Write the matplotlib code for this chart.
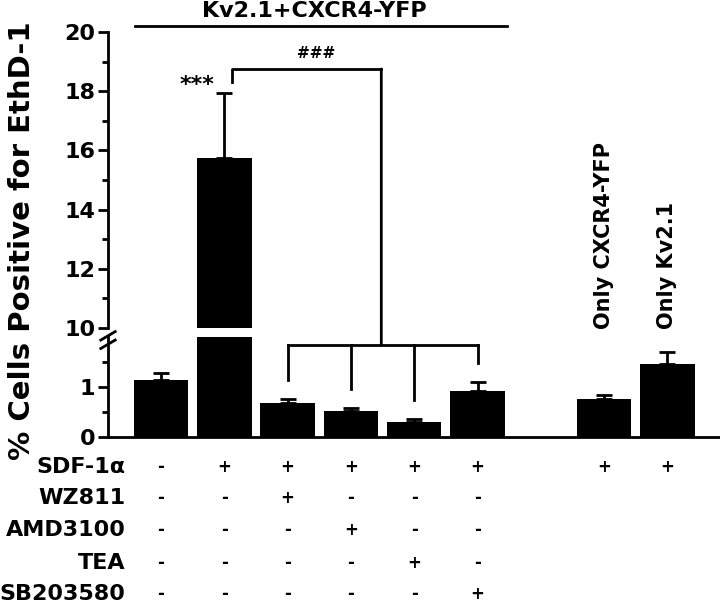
import numpy as np
import matplotlib.pyplot as plt
from matplotlib.patches import ConnectionPatch
from matplotlib.transforms import blended_transform_factory
from matplotlib.ticker import MultipleLocator

plt.rcParams['font.family'] = ['DejaVu Sans']
plt.rcParams['font.weight'] = 'bold'

# data
pos = [0, 1, 2, 3, 4, 5, 7, 8]
means = [1.14, 15.74, 0.67, 0.52, 0.30, 0.92, 0.76, 1.46]
sems = [0.14, 2.20, 0.09, 0.06, 0.06, 0.18, 0.08, 0.24]

row_names = ['SDF-1α', 'WZ811', 'AMD3100', 'TEA', 'SB203580']
signs = [
    ['-', '+', '+', '+', '+', '+', '+', '+'],
    ['-', '-', '+', '-', '-', '-', '', ''],
    ['-', '-', '-', '+', '-', '-', '', ''],
    ['-', '-', '-', '-', '+', '-', '', ''],
    ['-', '-', '-', '-', '-', '+', '', ''],
]
only_labels = {7: 'Only CXCR4-YFP', 8: 'Only Kv2.1'}

lw = 2.0
fig = plt.figure(figsize=(7.2, 6.04), dpi=100)
ax_hi = fig.add_axes([0.15, 0.457, 0.85, 0.490])
ax_lo = fig.add_axes([0.15, 0.2765, 0.85, 0.1656])

for ax in (ax_hi, ax_lo):
    ax.bar(pos, means, width=0.86, color='black')
    ax.errorbar(pos, means, yerr=[np.zeros(len(sems)), sems], fmt='none',
                ecolor='black', elinewidth=lw, capsize=6, capthick=lw)
    ax.set_xlim(-0.837, 8.83)
    for s in ['top', 'right']:
        ax.spines[s].set_visible(False)
    ax.spines['left'].set_linewidth(lw)
    ax.tick_params(axis='y', width=lw, length=7, labelsize=16, pad=2)
    ax.tick_params(axis='y', which='minor', width=lw, length=4)
    ax.tick_params(axis='x', bottom=False, labelbottom=False)

ax_hi.set_ylim(10, 20)
ax_hi.spines['bottom'].set_visible(False)
ax_hi.yaxis.set_major_locator(MultipleLocator(2))
ax_hi.yaxis.set_minor_locator(MultipleLocator(1))

ax_lo.set_ylim(0, 2)
ax_lo.spines['bottom'].set_linewidth(lw)
ax_lo.set_yticks([0, 1])
ax_lo.set_yticks([0.5, 1.5], minor=True)

# axis break marks
for yy in (0.444, 0.430):
    fig.add_artist(plt.Line2D([0.140, 0.160], [yy - 0.007, yy + 0.007],
                              color='black', lw=lw))

fig.text(0.031, 0.601, '% Cells Positive for EthD-1', rotation=90,
         ha='center', va='center', fontsize=21, fontweight='bold')

# group line and title
ax_hi.plot([-0.41, 5.47], [20.2, 20.2], color='black', lw=lw, clip_on=False)
ax_hi.text(2.42, 20.72, 'Kv2.1+CXCR4-YFP', ha='center', va='center',
           fontsize=16, fontweight='bold')

# significance
ax_hi.text(0.57, 18.2, '***', ha='center', va='center', fontsize=16, fontweight='bold')
ax_hi.plot([1.12, 1.12, 3.48], [18.31, 18.75, 18.75], color='black', lw=lw, clip_on=False)
ax_hi.text(2.45, 19.26, '###', ha='center', va='center', fontsize=11, fontweight='bold')
con = ConnectionPatch(xyA=(3.48, 18.75), coordsA=ax_hi.transData,
                      xyB=(3.48, 1.84), coordsB=ax_lo.transData,
                      color='black', lw=lw)
fig.add_artist(con)
ax_lo.plot([2, 5], [1.84, 1.84], color='black', lw=lw, clip_on=False)
for i in range(2, 6):
    top = means[i] + sems[i] + 0.37
    ax_lo.plot([pos[i], pos[i]], [top, 1.84], color='black', lw=lw, clip_on=False)

for p, t in only_labels.items():
    ax_lo.text(p, 2.16, t, rotation=90, ha='center', va='bottom',
               fontsize=15, fontweight='bold', clip_on=False)

# treatment table
tr = blended_transform_factory(ax_lo.transData, fig.transFigure)
row_y = [0.227, 0.175, 0.123, 0.068, 0.017]
for name, row, yy in zip(row_names, signs, row_y):
    fig.text(0.174, yy, name, ha='right', va='center', fontsize=16, fontweight='bold')
    for p, s in zip(pos, row):
        ax_lo.text(p, yy, s, transform=tr, ha='center', va='center',
                   fontsize=12, fontweight='bold', clip_on=False)

fig.savefig('out.png', dpi=100)
